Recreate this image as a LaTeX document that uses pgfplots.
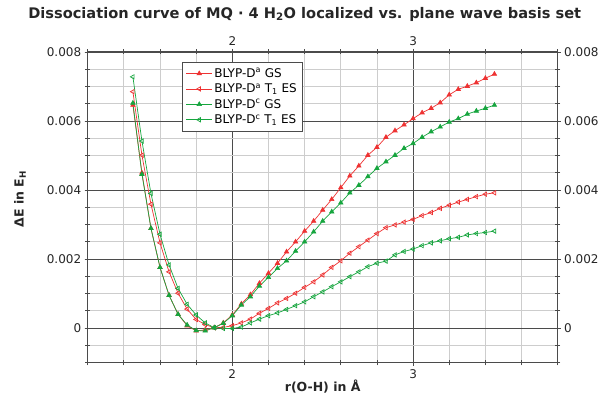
\documentclass[border=0pt]{standalone}
\usepackage{fontspec}
\setmainfont{DejaVu Sans}
\usepackage{pgfplots}
\pgfplotsset{compat=1.18}
\usepackage{pgfplotstable}
\definecolor{cred}{RGB}{238,50,50}
\definecolor{cgreen}{RGB}{22,165,62}
\definecolor{frame}{RGB}{75,75,75}
\definecolor{mgrid}{RGB}{205,205,205}

\pgfplotstableread{
x ga gc ea ec
1.45 0.00646 0.00652 0.00685 0.00728
1.50 0.00450 0.00446 0.00501 0.00542
1.55 0.00289 0.00289 0.00359 0.00390
1.60 0.00176 0.00176 0.00247 0.00272
1.65 0.00095 0.00095 0.00163 0.00183
1.70 0.00040 0.00040 0.00101 0.00115
1.75 0.00007 0.00009 0.00055 0.00069
1.80 -0.00008 -0.00007 0.00025 0.00038
1.85 -0.00005 -0.00008 0.00010 0.00015
1.90 0.00001 0.00001 0.00001 0.00001
1.95 0.00015 0.00014 0.00002 -0.00001
2.00 0.00038 0.00036 0.00007 -0.00001
2.05 0.00070 0.00067 0.00015 0.00003
2.10 0.00097 0.00091 0.00026 0.00015
2.15 0.00130 0.00122 0.00043 0.00026
2.20 0.00159 0.00147 0.00057 0.00036
2.25 0.00188 0.00173 0.00073 0.00044
2.30 0.00221 0.00195 0.00086 0.00054
2.35 0.00250 0.00223 0.00101 0.00065
2.40 0.00281 0.00250 0.00118 0.00076
2.45 0.00310 0.00279 0.00134 0.00091
2.50 0.00342 0.00310 0.00154 0.00105
2.55 0.00373 0.00337 0.00176 0.00120
2.60 0.00407 0.00363 0.00195 0.00134
2.65 0.00441 0.00392 0.00217 0.00149
2.70 0.00470 0.00414 0.00236 0.00163
2.75 0.00501 0.00439 0.00255 0.00178
2.80 0.00524 0.00463 0.00274 0.00188
2.85 0.00553 0.00482 0.00291 0.00194
2.90 0.00572 0.00501 0.00299 0.00212
2.95 0.00589 0.00521 0.00307 0.00222
3.00 0.00607 0.00535 0.00315 0.00229
3.05 0.00624 0.00553 0.00326 0.00239
3.10 0.00637 0.00569 0.00335 0.00247
3.15 0.00653 0.00583 0.00347 0.00253
3.20 0.00676 0.00597 0.00356 0.00259
3.25 0.00692 0.00607 0.00365 0.00263
3.30 0.00701 0.00620 0.00373 0.00270
3.35 0.00711 0.00629 0.00381 0.00274
3.40 0.00724 0.00637 0.00388 0.00277
3.45 0.00736 0.00646 0.00392 0.00281
}\data

\pgfplotsset{
  common/.style={
    width=470pt, height=310.6pt, scale only axis,
    xmin=1.2, xmax=3.8, ymin=-0.001, ymax=0.008,
    xtick={2,3},
    minor xtick={1.2,1.4,1.6,1.8,2.2,2.4,2.6,2.8,3.2,3.4,3.6,3.8},
    ytick={0,0.002,0.004,0.006,0.008},
    minor ytick={-0.001,-0.0005,0.0005,0.001,0.0015,0.0025,0.003,0.0035,0.0045,0.005,0.0055,0.0065,0.007,0.0075},
    scaled y ticks=false,
    yticklabel style={/pgf/number format/fixed,/pgf/number format/precision=3},
    /pgf/number format/assume math mode=true,
    tick align=center,
    major tick length=6pt, minor tick length=5pt,
    tick style={frame, line width=0.8pt},
    axis line style={frame, line width=1pt},
    ticklabel style={font=\fontsize{12}{14}\selectfont, text=black!85},
  }
}

\begin{document}
\begin{tikzpicture}
\begin{axis}[common,
  grid=both,
  major grid style={frame, line width=0.9pt},
  minor grid style={mgrid, line width=0.8pt},
  xticklabel pos=lower, yticklabel pos=left,
  title={\bfseries Dissociation curve of MQ · 4 H\textsubscript{2}O localized vs. plane wave basis set},
  title style={font=\fontsize{14.6}{17}\selectfont, text=black!85, at={(axis description cs:0.5,1)}, anchor=center, yshift=32pt, xshift=-18pt},
  xlabel={\bfseries r(O-H) in Å},
  xlabel style={font=\fontsize{12.5}{14}\selectfont, text=black!85, at={(axis description cs:0.5,0)}, anchor=center, yshift=-24pt},
  ylabel={\bfseries ΔE in E\textsubscript{H}},
  ylabel style={font=\fontsize{12.5}{14}\selectfont, text=black!85, at={(axis description cs:-0.144,0.527)}, anchor=center},
  legend style={at={(axis description cs:0.2,0.968)}, anchor=north west,
    draw=frame, line width=0.8pt, fill=white,
    font=\fontsize{12}{14}\selectfont, row sep=1pt, inner sep=4pt},
  legend cell align=left,
  legend image code/.code={\draw[mark repeat=2,mark phase=2] plot coordinates {(0cm,0cm) (0.45cm,0cm) (0.9cm,0cm)};},
]
\addplot[cred, line width=0.7pt, mark=triangle*, mark size=2.5pt, mark options={solid}] table[x=x,y=ga] {\data};
\addlegendentry{BLYP-D\textsuperscript{a} GS}
\addplot[cred, line width=0.7pt, mark=triangle, mark size=2.5pt, mark options={solid, rotate=90}] table[x=x,y=ea] {\data};
\addlegendentry{BLYP-D\textsuperscript{a} T\textsubscript{1} ES}
\addplot[cgreen, line width=0.7pt, mark=triangle*, mark size=2.5pt, mark options={solid}] table[x=x,y=gc] {\data};
\addlegendentry{BLYP-D\textsuperscript{c} GS}
\addplot[cgreen, line width=0.7pt, mark=triangle, mark size=2.5pt, mark options={solid, rotate=90}] table[x=x,y=ec] {\data};
\addlegendentry{BLYP-D\textsuperscript{c} T\textsubscript{1} ES}
\end{axis}
\begin{axis}[common,
  xticklabel pos=upper, yticklabel pos=right,
]
\end{axis}
\pgfresetboundingbox
\path (current axis.south west) +(-87.7pt,-33.4pt) (current axis.north east) +(44.3pt,52pt);
\end{tikzpicture}
\end{document}
